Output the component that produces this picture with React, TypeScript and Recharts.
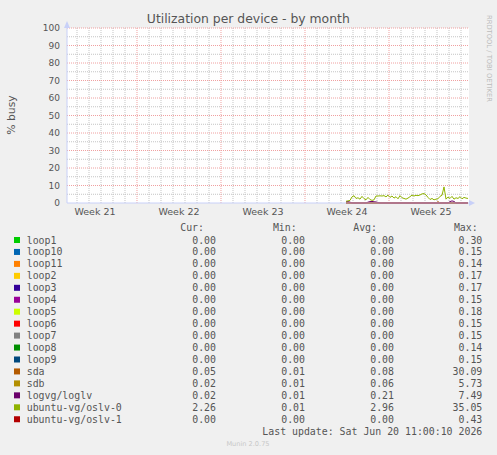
import React from 'react';
import { ComposedChart, Line, XAxis, YAxis, ReferenceLine, ReferenceArea } from 'recharts';

// ---- axes ----
const xDomain: [number, number] = [0, 33.5]; // days shown in the month view
const weekTicks = [2.333, 9.333, 16.333, 23.333, 30.333];
const weekLabels = ['Week 21', 'Week 22', 'Week 23', 'Week 24', 'Week 25'];
const weekBoundaries = [5.833, 12.833, 19.833, 26.833];
const yTicks = [0, 10, 20, 30, 40, 50, 60, 70, 80, 90, 100];
const yMajor = [10, 20, 30, 40, 50, 60, 70, 80, 90, 100];
const yMinor = [5, 15, 25, 35, 45, 55, 65, 75, 85, 95];

// ---- samples (4-hour steps starting at day 23.25) ----
const firstSampleDay = 23.25;
const sampleStep = 1 / 6;

const oslv0 = [
  1.0, 1.2, 1.5, 3.5, 4.2, 2.6, 3.0, 2.2, 3.8, 2.5,
  1.8, 3.2, 2.0, 1.5, 1.8, 4.0, 4.0, 4.1, 4.0, 4.2,
  3.5, 4.5, 3.2, 4.0, 2.8, 3.6, 2.4, 4.2, 3.0, 2.6,
  2.2, 2.8, 3.6, 4.5, 4.0, 4.4, 4.2, 4.6, 5.2, 5.4,
  4.6, 3.2, 2.0, 2.6, 1.8, 2.2, 2.4, 3.8, 4.4, 9.2,
  2.2, 3.4, 2.6, 3.8, 2.2, 3.0, 2.6, 3.6, 2.4, 3.2,
  2.8, 2.6,
];
const loglv = [
  0.7, 0.8, 0.5, 0, 0, 0, 0, 0, 0, 0,
  0, 0.5, 0.8, 0.9, 0.7, 0.6, 0.3, 0, 0, 0,
  0, 0, 0, 0, 0, 0, 0, 0, 0, 0,
  0, 0, 0, 0, 0, 0, 0, 0, 0, 0,
  0, 0, 0, 0, 0, 0, 0, 0, 0, 0,
  0, 0, 0.8, 1.2, 0.9, 0, 0, 0, 0, 0,
  0, 0,
];
const sda = [
  0, 0, 0, 0, 0, 0, 0, 0, 0, 0,
  0, 0, 0, 0, 0, 0, 0, 0, 0, 0,
  0, 0, 0, 0, 0, 0, 0, 0, 0, 0,
  0, 0, 0, 0, 0, 0, 0, 0, 0, 0,
  0, 0, 0, 0, 0, 0, 0.8, 0, 0, 0,
  0, 0, 0, 0, 0, 0, 0, 0, 0, 0,
  0, 0,
];
const idle = [
  0, 0, 0, 0, 0, 0, 0, 0, 0, 0,
  0, 0, 0, 0, 0, 0, 0, 0, 0, 0,
  0, 0, 0, 0, 0, 0, 0, 0, 0, 0,
  0, 0, 0, 0, 0, 0, 0, 0, 0, 0,
  0, 0, 0, 0, 0, 0, 0, 0, 0, 0,
  0, 0, 0, 0, 0, 0, 0, 0, 0, 0,
  0, 0,
];

// ---- legend ----
const names = [
  'loop1', 'loop10', 'loop11', 'loop2', 'loop3', 'loop4', 'loop5', 'loop6',
  'loop7', 'loop8', 'loop9', 'sda', 'sdb', 'logvg/loglv', 'ubuntu-vg/oslv-0', 'ubuntu-vg/oslv-1',
];
const colors = [
  '#00CC00', '#0066B3', '#FF8000', '#FFCC00', '#330099', '#990099', '#CCFF00', '#FF0000',
  '#808080', '#008F00', '#00487D', '#B35A00', '#B38F00', '#6B006B', '#8FB300', '#B30000',
];
const seriesValues = [
  idle, idle, idle, idle, idle, idle, idle, idle,
  idle, idle, idle, sda, idle, loglv, oslv0, idle,
];
const curVals = [0, 0, 0, 0, 0, 0, 0, 0, 0, 0, 0, 0.05, 0.02, 0.02, 2.26, 0];
const minVals = [0, 0, 0, 0, 0, 0, 0, 0, 0, 0, 0, 0.01, 0.01, 0.01, 0.01, 0];
const avgVals = [0, 0, 0, 0, 0, 0, 0, 0, 0, 0, 0, 0.08, 0.06, 0.21, 2.96, 0];
const maxVals = [0.3, 0.15, 0.14, 0.17, 0.17, 0.15, 0.18, 0.15, 0.15, 0.14, 0.15, 30.09, 5.73, 7.49, 35.05, 0.43];

const dayLines: number[] = [];
for (let d = 0.833; d < xDomain[1]; d += 1) {
  if (!weekBoundaries.some((w) => Math.abs(w - d) < 0.01)) dayLines.push(d);
}

const rows = oslv0.map((_, i) => {
  const r: Record<string, number> = { t: firstSampleDay + i * sampleStep };
  seriesValues.forEach((vals, k) => {
    r['s' + k] = vals[i];
  });
  return r;
});

const FONT = '"DejaVu Sans", sans-serif';
const MONO = '"DejaVu Sans Mono", monospace';
const TXT = '#555555';
const AXIS = '#C8D0F8';

export default function App() {
  const legendTop = 240;
  const rowH = 11.95;
  return (
    <div style={{ position: 'absolute', left: 0, top: 0, width: 497, height: 455, background: '#F0F0F0', overflow: 'hidden' }}>
      <div style={{ position: 'absolute', left: 0, top: 0 }}>
        <ComposedChart width={497} height={230} data={rows} margin={{ top: 28, right: 28, left: 7, bottom: 7 }}>
          <ReferenceArea x1={xDomain[0]} x2={xDomain[1]} y1={0} y2={100} fill="#FFFFFF" fillOpacity={1} stroke="none" />
          {dayLines.map((d) => (
            <ReferenceLine key={'d' + d} x={d} stroke="#C4C4C4" strokeDasharray="1 1" strokeWidth={1} />
          ))}
          {yMinor.map((v) => (
            <ReferenceLine key={'m' + v} y={v} stroke="#C4C4C4" strokeDasharray="1 1" strokeWidth={1} />
          ))}
          {weekBoundaries.map((d) => (
            <ReferenceLine key={'w' + d} x={d} stroke="#F0A0A0" strokeDasharray="1 1" strokeWidth={1} />
          ))}
          {yMajor.map((v) => (
            <ReferenceLine key={'M' + v} y={v} stroke="#F0A0A0" strokeDasharray="1 1" strokeWidth={1} />
          ))}
          <XAxis
            dataKey="t"
            type="number"
            domain={xDomain}
            allowDataOverflow
            ticks={weekTicks}
            tickFormatter={(v: number) => weekLabels[weekTicks.indexOf(v)] ?? ''}
            height={20}
            tickLine={false}
            tickSize={0}
            tickMargin={5}
            axisLine={{ stroke: AXIS }}
            tick={{ fill: TXT, fontSize: 9.5, fontFamily: FONT }}
          />
          <YAxis
            type="number"
            domain={[0, 100]}
            ticks={yTicks}
            width={60}
            tickLine={false}
            tickSize={0}
            tickMargin={7}
            axisLine={{ stroke: AXIS }}
            tick={{ fill: TXT, fontSize: 9, fontFamily: FONT }}
            interval={0}
          />
          {names.map((n, k) => (
            <Line
              key={n}
              dataKey={'s' + k}
              name={n}
              type="linear"
              stroke={colors[k]}
              strokeWidth={1}
              dot={false}
              activeDot={false}
              isAnimationActive={false}
            />
          ))}
        </ComposedChart>
      </div>
      <svg width={497} height={455} style={{ position: 'absolute', left: 0, top: 0, pointerEvents: 'none' }}>
        {/* axis arrows */}
        <polygon points="64,28 70,28 67,21" fill={AXIS} />
        <polygon points="469,200 469,206 475,203" fill={AXIS} />
        <text x={248.3} y={23} textAnchor="middle" fontFamily={FONT} fontSize={12.4} fill={TXT}>
          Utilization per device - by month
        </text>
        <text
          x={0}
          y={0}
          transform="translate(15,115) rotate(-90)"
          textAnchor="middle"
          fontFamily={FONT}
          fontSize={10.8}
          fill={TXT}
        >
          % busy
        </text>
        <text
          x={0}
          y={0}
          transform="translate(487,58.5) rotate(90)"
          textAnchor="middle"
          fontFamily={FONT}
          fontSize={6.75}
          fill="#BBBBBB"
        >
          RRDTOOL / TOBI OETIKER
        </text>
        <g fontFamily={MONO} fontSize={9.9} fill={TXT}>
          <text x={204} y={227.3} textAnchor="end" dominantBaseline="central">Cur:</text>
          <text x={296.7} y={227.3} textAnchor="end" dominantBaseline="central">Min:</text>
          <text x={377} y={227.3} textAnchor="end" dominantBaseline="central">Avg:</text>
          <text x={477.7} y={227.3} textAnchor="end" dominantBaseline="central">Max:</text>
          {names.map((n, k) => {
            const y = legendTop + k * rowH;
            return (
              <g key={n}>
                <rect x={14} y={y - 3} width={6} height={6} fill={colors[k]} />
                <text x={26.7} y={y} dominantBaseline="central">{n}</text>
                <text x={216} y={y} textAnchor="end" dominantBaseline="central">{curVals[k].toFixed(2)}</text>
                <text x={305} y={y} textAnchor="end" dominantBaseline="central">{minVals[k].toFixed(2)}</text>
                <text x={394} y={y} textAnchor="end" dominantBaseline="central">{avgVals[k].toFixed(2)}</text>
                <text x={482.3} y={y} textAnchor="end" dominantBaseline="central">{maxVals[k].toFixed(2)}</text>
              </g>
            );
          })}
          <text x={482.3} y={431} textAnchor="end" dominantBaseline="central">Last update: Sat Jun 20 11:00:10 2026</text>
        </g>
        <text x={248} y={444} textAnchor="middle" dominantBaseline="central" fontFamily={FONT} fontSize={6.6} fill="#C8C8C8">
          Munin 2.0.75
        </text>
      </svg>
    </div>
  );
}
